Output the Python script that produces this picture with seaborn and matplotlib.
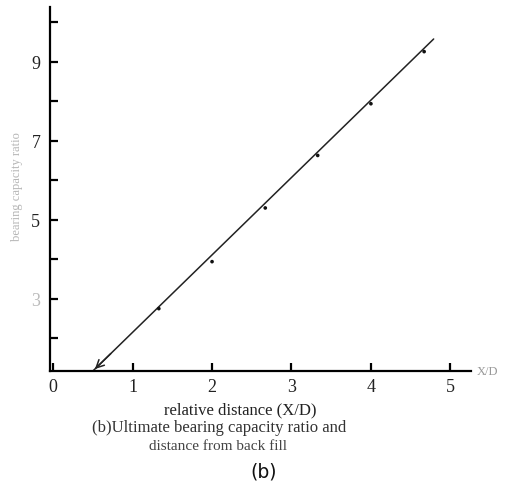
import matplotlib
matplotlib.use("Agg")
import matplotlib.pyplot as plt
import seaborn as sns
import pandas as pd

# Measured points: relative distance X/D vs. ultimate bearing capacity ratio
rel_distance = [1.33, 2.0, 2.67, 3.33, 4.0, 4.67]
capacity_ratio = [2.75, 3.94, 5.30, 6.63, 7.94, 9.26]

# Fitted trend line (start point sits on the horizontal axis)
fit_x = [0.5, 4.79]
fit_y = [1.17, 9.58]

x_ticks = [0, 1, 2, 3, 4, 5]
y_ticks = [2, 3, 4, 5, 6, 7, 8, 9, 10]
y_tick_labels = ["", "3", "", "5", "", "7", "", "9", ""]

sns.set_theme(style="white")
serif = ["Liberation Serif", "DejaVu Serif"]
plt.rcParams["font.family"] = serif

W, H = 515, 485
fig = plt.figure(figsize=(W / 100, H / 100), dpi=100)
ax = fig.add_axes([50 / W, (H - 372) / H, (471 - 50) / W, (372 - 8) / H])

pts = pd.DataFrame({"x": rel_distance, "y": capacity_ratio})
fit = pd.DataFrame({"x": fit_x, "y": fit_y})

sns.lineplot(data=fit, x="x", y="y", ax=ax, color="#222222", lw=1.1)
sns.scatterplot(data=pts, x="x", y="y", ax=ax, color="#111111", s=7,
                edgecolor="none", zorder=3)

# open arrowhead at the lower end of the trend line
slope = (fit_y[1] - fit_y[0]) / (fit_x[1] - fit_x[0])
ax.annotate("", xy=(fit_x[0], fit_y[0]),
            xytext=(fit_x[0] + 0.25, fit_y[0] + 0.25 * slope),
            arrowprops=dict(arrowstyle="->", lw=1.1, color="#222222",
                            mutation_scale=14))

ax.set_xlim(-0.04, 5.26)
ax.set_ylim(1.17, 10.39)

ax.set_xticks(x_ticks)
ax.set_xticklabels([str(v) for v in x_ticks])
ax.set_yticks(y_ticks)
ax.set_yticklabels(y_tick_labels)

ax.tick_params(axis="both", direction="in", length=6, width=1.6,
               color="black", labelsize=13, labelcolor="#222222",
               bottom=True, left=True)
ax.tick_params(axis="x", pad=5)
ax.tick_params(axis="y", pad=7)
for lbl in ax.get_yticklabels():
    if lbl.get_text() == "3":
        lbl.set_color("#bbbbbb")

for side in ("top", "right"):
    ax.spines[side].set_visible(False)
for side in ("left", "bottom"):
    ax.spines[side].set_color("black")
    ax.spines[side].set_linewidth(1.6)

ax.set_xlabel("")
ax.set_ylabel("")

# axis annotations
ax.text(5.33, 1.17, "X/D", fontsize=9, color="#999999", ha="left",
        va="center", clip_on=False)
fig.text(17 / W, 1 - 187 / H, "bearing capacity ratio", rotation=90,
         fontsize=9, color="#b5b5b5", ha="center", va="center")

# caption
fig.text(240 / W, 1 - 410 / H, "relative distance (X/D)", fontsize=12,
         color="#222222", ha="center", va="center")
fig.text(219 / W, 1 - 428 / H, "(b)Ultimate bearing capacity ratio and",
         fontsize=12, color="#333333", ha="center", va="center")
fig.text(218 / W, 1 - 447 / H, "distance from back fill", fontsize=11,
         color="#444444", ha="center", va="center")
fig.text(264 / W, 1 - 472 / H, "(b)", fontsize=13.5, color="#111111",
         ha="center", va="center", family=["DejaVu Sans"])

fig.savefig("out.png", dpi=100, facecolor="white")
